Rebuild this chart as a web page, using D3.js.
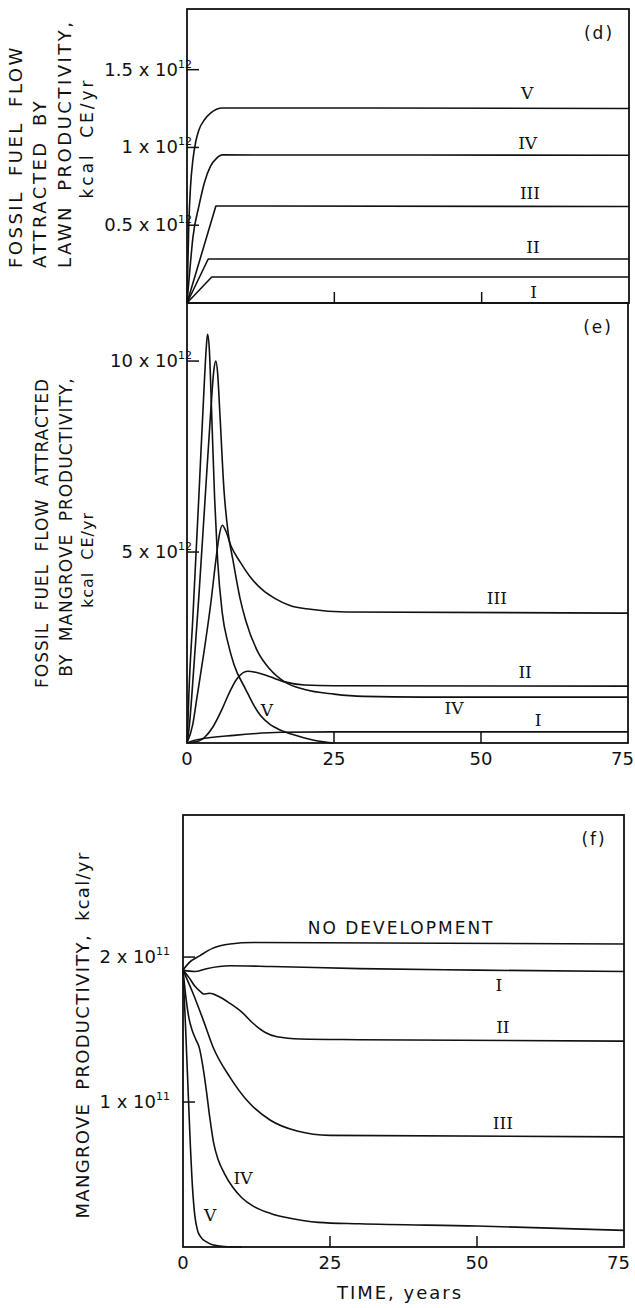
<!DOCTYPE html>
<html>
<head>
<meta charset="utf-8">
<script src="https://cdn.jsdelivr.net/npm/d3@7"></script>
<style>
  body { margin: 0; background: #ffffff; }
  svg { display: block; }
  text { font-family: 'DejaVu Sans', sans-serif; fill: #111; }
  .roman { font-family: 'DejaVu Serif', serif; }
</style>
</head>
<body>
<div id="chart"></div>
<script>
// x axis, years
const xTicks = [0, 25, 50, 75]
const xInnerTicks = [25, 50]

// (d) fossil fuel flow attracted by lawn productivity, units of 1e12 kcal CE/yr  [year, value]
const lawnI   = [[0, 0], [4.2, 0.167], [75, 0.167]]
const lawnII  = [[0, 0], [3.6, 0.283], [75, 0.283]]
const lawnIII = [[0, 0], [4.9, 0.624], [75, 0.62]]
const lawnIV  = [[0, 0], [0.5, 0.22], [1, 0.42], [2, 0.62], [3, 0.78], [4, 0.88], [5, 0.93], [6, 0.952], [75, 0.95]]
const lawnV   = [[0, 0], [0.3, 0.5], [0.6, 0.75], [1, 0.92], [1.5, 1.04], [2, 1.11], [3, 1.18], [4, 1.22], [5, 1.245], [6, 1.254], [75, 1.25]]
const lawnTicks = [0.5, 1, 1.5]
const lawnTickLabels = ['0.5 x 10', '1 x 10', '1.5 x 10']

// (e) fossil fuel flow attracted by mangrove productivity, units of 1e12 kcal CE/yr
const mfI   = [[0, 0], [1, 0.06], [2.2, 0.1], [8, 0.2], [16, 0.28], [25, 0.29], [75, 0.29]]
const mfII  = [[0, 0], [2, 0.05], [3, 0.15], [4.4, 0.42], [6, 0.9], [7, 1.25], [8.5, 1.68], [10.3, 1.88], [12, 1.84], [14, 1.74], [16.6, 1.6], [20, 1.52], [25, 1.5], [75, 1.49]]
const mfIII = [[0, 0], [1, 0.5], [1.7, 1.2], [3, 2.5], [4, 3.6], [5, 4.9], [5.5, 5.45], [6, 5.7], [6.6, 5.55], [7.5, 5.15], [9, 4.75], [11, 4.3], [12.9, 4.0], [15, 3.78], [17.5, 3.6], [21, 3.5], [27, 3.43], [75, 3.4]]
const mfIV  = [[0, 0], [0.4, 0.45], [0.8, 1.2], [2, 3.8], [3, 6.2], [4, 8.6], [4.6, 9.8], [4.9, 10], [5.2, 9.7], [5.6, 8.6], [6.3, 6.6], [7, 5.5], [7.8, 4.8], [9, 3.8], [10, 3.2], [12, 2.4], [14, 1.95], [16.6, 1.6], [20, 1.4], [25, 1.28], [30, 1.22], [40, 1.2], [75, 1.2]]
const mfV   = [[0, 0], [0.15, 0.5], [0.3, 1.2], [1, 3.3], [2, 6.4], [3, 9.6], [3.3, 10.4], [3.5, 10.7], [3.8, 10.3], [4.2, 8.6], [4.7, 6.4], [5.2, 4.8], [6, 3.4], [7, 2.6], [8, 2.05], [10, 1.4], [11.5, 0.95], [12.5, 0.72], [14, 0.5], [16, 0.33], [18, 0.22], [20, 0.13], [22, 0.06], [25, 0]]
const mfTicks = [5, 10]
const mfTickLabels = ['5 x 10', '10 x 10']

// (f) mangrove productivity, units of 1e11 kcal/yr
const mpNone = [[0, 1.91], [1, 1.96], [2.9, 2.01], [5, 2.06], [8, 2.09], [12, 2.1], [75, 2.09]]
const mpI    = [[0, 1.91], [2, 1.9], [4, 1.92], [8, 1.94], [15, 1.935], [30, 1.92], [50, 1.91], [75, 1.9]]
const mpII   = [[0, 1.91], [1, 1.86], [2, 1.8], [3, 1.76], [3.5, 1.745], [4.5, 1.75], [6, 1.73], [8, 1.68], [10, 1.62], [12, 1.54], [14, 1.48], [16, 1.45], [20, 1.435], [30, 1.43], [75, 1.42]]
const mpIII  = [[0, 1.91], [1.7, 1.75], [3.4, 1.57], [5.1, 1.38], [8, 1.17], [10.9, 1.01], [14.8, 0.876], [19.4, 0.8], [25, 0.77], [75, 0.76]]
const mpIV   = [[0, 1.91], [0.5, 1.72], [1, 1.58], [1.6, 1.49], [2.2, 1.43], [2.8, 1.37], [3.4, 1.24], [4, 1.07], [4.6, 0.88], [5.2, 0.72], [6, 0.6], [7, 0.51], [8.5, 0.41], [10, 0.34], [12, 0.28], [15, 0.23], [18, 0.2], [23, 0.17], [30, 0.16], [50, 0.145], [75, 0.115]]
const mpV    = [[0, 1.91], [0.4, 1.55], [0.8, 1.15], [1.2, 0.75], [1.6, 0.42], [2, 0.22], [2.5, 0.11], [3, 0.07], [4, 0.035], [5, 0.015], [7, 0.003], [10, 0]]
const mpTicks = [1, 2]
const mpTickLabels = ['1 x 10', '2 x 10']

const svg = d3.select('#chart')
  .append('svg')
    .attr('width', 635)
    .attr('height', 1308)

const ink = '#111'

// one panel: frame, inner ticks, y tick labels, curves, curve labels
function drawPanel(p) {
  const x = d3.scaleLinear().domain([0, 75]).range([p.left, p.right])
  const y = d3.scaleLinear().domain([0, p.yMax]).range([p.bottom, p.top])
  const g = svg.append('g')

  // curves
  p.series.forEach(s => {
    const line = d3.line()
      .x(d => x(d[0]))
      .y(d => y(d[1]))
      .curve(s.straight ? d3.curveLinear : d3.curveMonotoneX)
    g.append('path')
      .datum(s.data)
      .attr('d', line)
      .attr('fill', 'none')
      .attr('stroke', ink)
      .attr('stroke-width', 1.6)
      .attr('stroke-linejoin', 'round')
  })

  // frame
  g.append('rect')
    .attr('x', p.left).attr('y', p.top)
    .attr('width', p.right - p.left).attr('height', p.bottom - p.top)
    .attr('fill', 'none')
    .attr('stroke', ink)
    .attr('stroke-width', 1.8)

  // x ticks pointing up into the plot
  g.selectAll('.xt')
    .data(xInnerTicks)
    .enter().append('line')
      .attr('x1', d => x(d)).attr('x2', d => x(d))
      .attr('y1', p.bottom).attr('y2', p.bottom - 11)
      .attr('stroke', ink).attr('stroke-width', 1.5)

  // y ticks pointing right into the plot
  g.selectAll('.yt')
    .data(p.ticks)
    .enter().append('line')
      .attr('x1', p.left).attr('x2', p.left + 12)
      .attr('y1', d => y(d)).attr('y2', d => y(d))
      .attr('stroke', ink).attr('stroke-width', 1.5)

  // y tick labels with superscript exponent
  const lab = g.selectAll('.yl')
    .data(p.ticks)
    .enter().append('text')
      .attr('x', p.labelRight)
      .attr('y', d => y(d) + 6)
      .attr('text-anchor', 'end')
      .style('font-size', '18px')
  lab.append('tspan').text((d, i) => p.tickLabels[i])
  lab.append('tspan')
    .attr('dy', -8)
    .style('font-size', '11px')
    .text(p.exponent)

  // curve labels
  p.labels.forEach(l => {
    g.append('text')
      .attr('class', l.sans ? null : 'roman')
      .attr('x', x(l.at[0]))
      .attr('y', y(l.at[1]))
      .attr('dy', '0.36em')
      .attr('text-anchor', 'middle')
      .style('font-size', '17px')
      .style('letter-spacing', l.sans ? '2px' : '0px')
      .text(l.text)
  })

  // panel letter
  g.append('text')
    .attr('x', p.right - 30)
    .attr('y', p.top + 30)
    .attr('text-anchor', 'middle')
    .style('font-size', '17px')
    .style('letter-spacing', '2px')
    .text(p.name)

  // x tick labels under the panel (75 kept inside the page)
  if (p.xLabels) {
    g.selectAll('.xl')
      .data(xTicks)
      .enter().append('text')
        .attr('x', d => d === 75 ? x(d) + 6 : x(d))
        .attr('y', p.bottom + 22)
        .attr('text-anchor', d => d === 75 ? 'end' : 'middle')
        .style('font-size', '18px')
        .text(d => d)
  }
  return x
}

drawPanel({
  name: '(d)', left: 187, right: 629, top: 9, bottom: 303, yMax: 1.89,
  ticks: lawnTicks, tickLabels: lawnTickLabels, exponent: '12', labelRight: 192,
  series: [
    { data: lawnI, straight: true }, { data: lawnII, straight: true }, { data: lawnIII, straight: true },
    { data: lawnIV }, { data: lawnV }
  ],
  labels: [
    { text: 'V', at: [57.7, 1.35] }, { text: 'IV', at: [57.8, 1.03] }, { text: 'III', at: [58.2, 0.707] },
    { text: 'II', at: [58.7, 0.36] }, { text: 'I', at: [58.8, 0.07] }
  ]
})

drawPanel({
  name: '(e)', left: 187, right: 628, top: 303, bottom: 743, yMax: 11.52,
  ticks: mfTicks, tickLabels: mfTickLabels, exponent: '12', labelRight: 192, xLabels: true,
  series: [{ data: mfI }, { data: mfII }, { data: mfIII }, { data: mfIV }, { data: mfV }],
  labels: [
    { text: 'III', at: [52.7, 3.8] }, { text: 'II', at: [57.5, 1.86] }, { text: 'IV', at: [45.4, 0.92] },
    { text: 'I', at: [59.7, 0.6] }, { text: 'V', at: [13.6, 0.86] }
  ]
})

drawPanel({
  name: '(f)', left: 183, right: 624, top: 815, bottom: 1247, yMax: 2.98,
  ticks: mpTicks, tickLabels: mpTickLabels, exponent: '11', labelRight: 170, xLabels: true,
  series: [{ data: mpNone }, { data: mpI }, { data: mpII }, { data: mpIII }, { data: mpIV }, { data: mpV }],
  labels: [
    { text: 'NO DEVELOPMENT', at: [37.1, 2.2], sans: true },
    { text: 'I', at: [53.7, 1.81] }, { text: 'II', at: [54.4, 1.52] }, { text: 'III', at: [54.4, 0.855] },
    { text: 'IV', at: [10.2, 0.476] }, { text: 'V', at: [4.6, 0.22] }
  ]
})

// rotated axis titles
function vText(txt, cx, cy, size, spacing, anchor) {
  svg.append('text')
    .attr('transform', 'translate(' + cx + ',' + cy + ') rotate(-90)')
    .attr('dy', '0.36em')
    .attr('text-anchor', anchor || 'middle')
    .style('font-size', size + 'px')
    .style('letter-spacing', spacing + 'px')
    .style('word-spacing', '6px')
    .text(txt)
}

vText('FOSSIL FUEL FLOW', 16, 268, 18, 2.5, 'start')
vText('ATTRACTED BY', 40, 268, 18, 2.5, 'start')
vText('LAWN PRODUCTIVITY,', 65, 268, 18, 2.5, 'start')
vText('kcal CE/yr', 87, 138, 17, 3)

vText('FOSSIL FUEL FLOW ATTRACTED', 42, 533, 17, 1)
vText('BY MANGROVE PRODUCTIVITY,', 66, 527, 17, 1)
vText('kcal CE/yr', 87, 560, 16, 1)

vText('MANGROVE PRODUCTIVITY, kcal/yr', 83, 1035, 18, 1.3)

svg.append('text')
  .attr('x', 400)
  .attr('y', 1299)
  .attr('text-anchor', 'middle')
  .style('font-size', '18px')
  .style('letter-spacing', '2px')
  .text('TIME, years')
</script>
</body>
</html>
